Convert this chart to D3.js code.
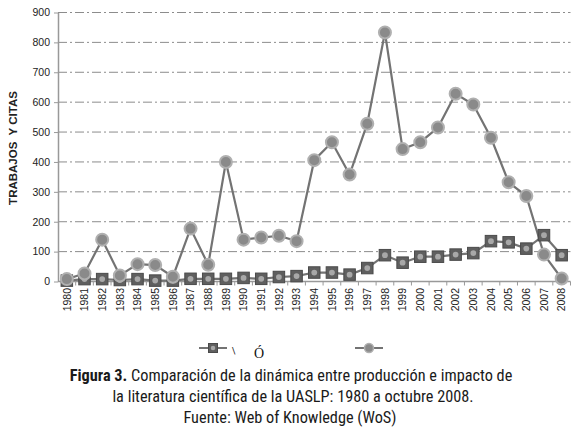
<!DOCTYPE html>
<html>
<head>
<meta charset="utf-8">
<script src="https://cdn.jsdelivr.net/npm/d3@7"></script>
<style>
  body { margin: 0; background: #fff; }
</style>
</head>
<body>
<div id="chart"></div>
<script>
const years = [1980,1981,1982,1983,1984,1985,1986,1987,1988,1989,1990,1991,1992,1993,1994,
  1995,1996,1997,1998,1999,2000,2001,2002,2003,2004,2005,2006,2007,2008];
// trabajos (squares)
const trabajos = [3,8,8,5,8,3,3,9,9,9,12,9,15,18,30,30,23,45,88,63,83,83,90,95,135,131,110,155,88];
// citas (circles)
const citas = [8,27,140,20,58,55,16,177,56,400,140,147,153,135,406,466,358,528,833,443,466,515,628,592,481,332,286,90,10];
const yTicks = [0,100,200,300,400,500,600,700,800,900];

const width = 580, height = 431;
const margin = {top: 12.5, left: 58, right: 9.5};
const plotBottom = 281.5;

const svg = d3.select("#chart").append("svg")
  .attr("width", width)
  .attr("height", height)
  .attr("viewBox", [0, 0, width, height]);

const x = d3.scaleBand(years, [margin.left, width - margin.right]);
const y = d3.scaleLinear([0, 900], [plotBottom, margin.top]);
const cx = d => x(d) + x.bandwidth() / 2;

// dash-dot grid lines
svg.append("g")
  .selectAll("line")
  .data(yTicks.filter(d => d > 0))
  .join("line")
    .attr("x1", margin.left)
    .attr("x2", width - margin.right)
    .attr("y1", d => y(d))
    .attr("y2", d => y(d))
    .attr("stroke", "#8c8c8c")
    .attr("stroke-width", 1)
    .attr("stroke-dasharray", "9,3,2,3");

// Y axis
const yAxis = svg.append("g")
  .attr("transform", `translate(${margin.left},0)`)
  .call(d3.axisLeft(y).tickValues(yTicks).tickSize(4).tickSizeOuter(0));
yAxis.select(".domain").attr("stroke", "#999").attr("stroke-width", 1.5);
yAxis.selectAll(".tick line").attr("stroke", "#999");
yAxis.selectAll(".tick text")
  .attr("font-family", "Liberation Sans, Arial, sans-serif")
  .attr("font-size", 10.5)
  .attr("fill", "#222")
  .attr("x", -8);

// X axis, ticks between categories
const xAxisG = svg.append("g")
  .attr("transform", `translate(0,${plotBottom})`);
xAxisG.append("line")
  .attr("x1", margin.left).attr("x2", width - margin.right)
  .attr("stroke", "#999").attr("stroke-width", 1.5);
xAxisG.selectAll(".sep")
  .data(years)
  .join("line")
    .attr("class", "sep")
    .attr("x1", d => x(d) + x.bandwidth())
    .attr("x2", d => x(d) + x.bandwidth())
    .attr("y1", 0).attr("y2", 4)
    .attr("stroke", "#999");
xAxisG.selectAll("text")
  .data(years)
  .join("text")
    .attr("transform", d => `translate(${cx(d) + 3.7},6.5) rotate(-90)`)
    .attr("text-anchor", "end")
    .attr("font-family", "Liberation Sans, Arial, sans-serif")
    .attr("font-size", 10.5)
    .attr("fill", "#222")
    .text(d => d);

// Y title
svg.append("text")
  .attr("transform", "translate(17,148) rotate(-90)")
  .attr("text-anchor", "middle")
  .attr("font-family", "Liberation Sans, Arial, sans-serif")
  .attr("font-size", 11.5)
  .attr("font-weight", "bold")
  .attr("fill", "#222")
  .attr("xml:space", "preserve")
  .text("TRABAJOS  Y CITAS");

const line = d3.line().x((d, i) => cx(years[i])).y(d => y(d));

svg.append("path")
  .datum(citas)
  .attr("fill", "none")
  .attr("stroke", "#737373")
  .attr("stroke-width", 2.2)
  .attr("d", line);

svg.append("path")
  .datum(trabajos)
  .attr("fill", "none")
  .attr("stroke", "#737373")
  .attr("stroke-width", 2.2)
  .attr("d", line);

function drawSquare(g, px, py, s) {
  g.append("rect")
    .attr("x", px - s / 2).attr("y", py - s / 2)
    .attr("width", s).attr("height", s)
    .attr("fill", "#5f5f5f")
    .attr("stroke", "#4a4a4a")
    .attr("stroke-width", 1);
  g.append("circle")
    .attr("cx", px).attr("cy", py).attr("r", s / 4)
    .attr("fill", "#a8a8a8");
}
function drawCircle(g, px, py, r) {
  g.append("circle")
    .attr("cx", px).attr("cy", py).attr("r", r)
    .attr("fill", "#8a8a8a")
    .attr("stroke", "#b0b0b0")
    .attr("stroke-width", 2);
}

const sq = svg.append("g");
trabajos.forEach((v, i) => drawSquare(sq, cx(years[i]), y(v), 11.5));
const ci = svg.append("g");
citas.forEach((v, i) => drawCircle(ci, cx(years[i]), y(v), 6));

// legend
const lg = svg.append("g");
lg.append("line").attr("x1", 199).attr("x2", 227).attr("y1", 348).attr("y2", 348)
  .attr("stroke", "#737373").attr("stroke-width", 2);
drawSquare(lg, 213, 348, 9);
lg.append("text").attr("x", 232).attr("y", 354)
  .attr("font-family", "DejaVu Serif, serif").attr("font-size", 10).attr("fill", "#222")
  .text("\\");
lg.append("text").attr("x", 259).attr("y", 358).attr("text-anchor", "middle")
  .attr("font-family", "Liberation Serif, serif").attr("font-size", 14).attr("fill", "#111")
  .text("Ó");
lg.append("line").attr("x1", 355).attr("x2", 383).attr("y1", 348).attr("y2", 348)
  .attr("stroke", "#737373").attr("stroke-width", 2);
lg.append("circle").attr("cx", 369).attr("cy", 348).attr("r", 4.5)
  .attr("fill", "#8a8a8a").attr("stroke", "#b0b0b0").attr("stroke-width", 1.5);

// caption
const cap = svg.append("g")
  .attr("font-family", "Liberation Sans Narrow, Roboto Condensed, Arial Narrow, sans-serif")
  .attr("font-size", 16.3)
  .attr("fill", "#1a1a1a")
  .attr("text-anchor", "middle");
const l1 = cap.append("text").attr("x", 291).attr("y", 381);
l1.append("tspan").attr("font-weight", "bold").text("Figura 3.");
l1.append("tspan").text(" Comparación de la dinámica entre producción e impacto de");
cap.append("text").attr("x", 293).attr("y", 402)
  .text("la literatura científica de la UASLP: 1980 a octubre 2008.");
cap.append("text").attr("x", 290).attr("y", 423)
  .text("Fuente: Web of Knowledge (WoS)");
</script>
</body>
</html>
